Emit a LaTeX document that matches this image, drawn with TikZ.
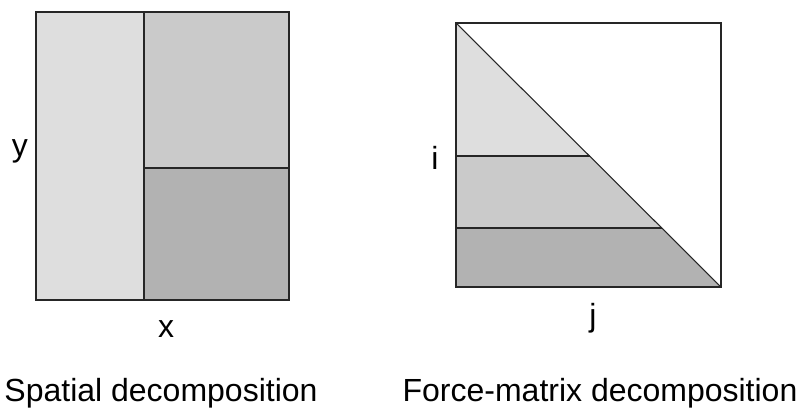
\documentclass[tikz,border=0pt]{standalone}
\usepackage{fontspec}
\setmainfont{Liberation Sans}
\definecolor{cellA}{HTML}{DEDEDE}
\definecolor{cellB}{HTML}{CACACA}
\definecolor{cellC}{HTML}{B2B2B2}
\begin{document}
\begin{tikzpicture}[x=0.75pt, y=-0.75pt,
  edge/.style={draw=black!85, line width=0.8pt},
  lbl/.style={anchor=base, inner sep=0pt, font=\fontsize{24}{29}\selectfont}]
\path (0,0) rectangle (800,407);
% spatial decomposition
\fill[cellA] (36,12) rectangle (144,300);
\fill[cellB] (144,12) rectangle (289,168);
\fill[cellC] (144,168) rectangle (289,300);
\draw[edge] (36,12) rectangle (289,300);
\draw[edge] (144,12) -- (144,300);
\draw[edge] (144,168) -- (289,168);
\node[lbl] (ylab) at (20,156) {y};
\node[lbl] (xlab) at (166,337) {x};
\node[lbl] (spatial) at (161,401) {Spatial decomposition};
% force-matrix decomposition
\fill[cellA] (456,23) -- (589.5,156) -- (456,156) -- cycle;
\fill[cellB] (456,156) -- (589.5,156) -- (661.8,228) -- (456,228) -- cycle;
\fill[cellC] (456,228) -- (661.8,228) -- (721,287) -- (456,287) -- cycle;
\draw[edge] (456,23) rectangle (721,287);
\draw[edge] (456,23) -- (721,287);
\draw[edge] (456,156) -- (589.5,156);
\draw[edge] (456,228) -- (661.8,228);
\node[lbl] (ilab) at (435,169) {i};
\node[lbl] (jlab) at (593,326) {j};
\node[lbl] (force) at (600,401) {Force-matrix decomposition};
\end{tikzpicture}
\end{document}
